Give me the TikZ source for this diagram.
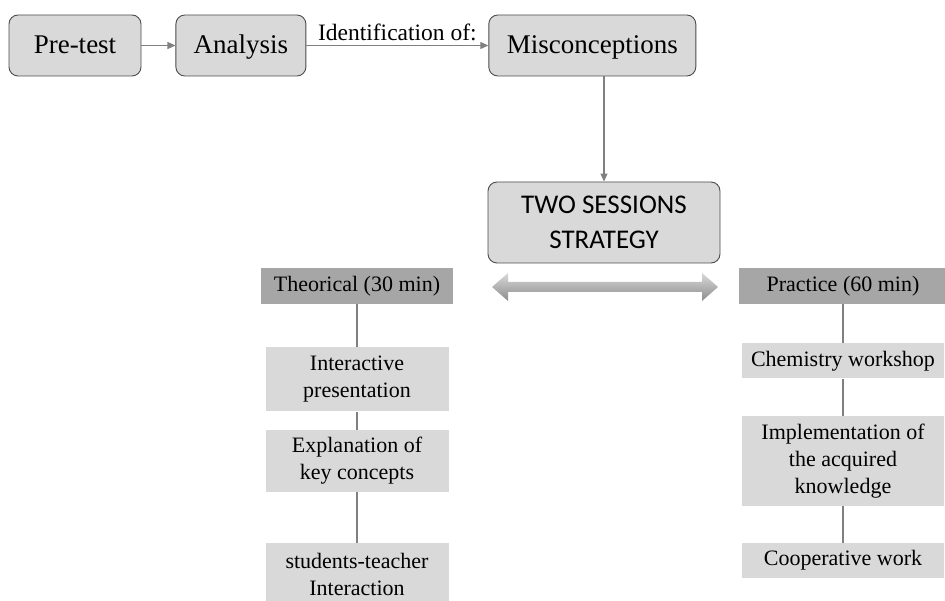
\documentclass[tikz,border=0pt]{standalone}
\usepackage{fontspec}
\setmainfont{Liberation Serif}
\newfontfamily\carlito{Carlito}
\usetikzlibrary{arrows.meta,positioning}
\tikzset{
  stage/.style={rectangle, rounded corners=9pt, draw=black!70, line width=0.9pt,
    fill=black!15, align=center, minimum height=61pt, inner sep=4pt,
    font=\fontsize{27}{32}\selectfont},
  oneline/.style={text height=19pt, text depth=2pt},
  session/.style={rectangle, fill=black!35, minimum height=36pt, inner sep=2pt,
    text height=16pt, text depth=5pt, font=\fontsize{22}{27}\selectfont},
  task/.style={rectangle, fill=black!15, align=center, inner sep=3pt,
    font=\fontsize{22}{27}\selectfont},
  flow/.style={-{Triangle[length=8pt,width=7pt]}, draw=black!50, line width=1.1pt},
  link/.style={draw=black!50, line width=2.2pt},
}
\begin{document}
\begin{tikzpicture}[x=1pt,y=-1pt]
    \useasboundingbox (0,0) rectangle (945,601);
    % top row
    \node[stage, oneline, minimum width=132pt] (pretest) at (75,45.5) {Pre-test};
    \node[stage, oneline, minimum width=130pt, right=34pt of pretest] (analysis) {Analysis};
    \node[stage, oneline, minimum width=207pt, right=182pt of analysis] (misc) {Misconceptions};
    \node[stage, minimum width=232pt, minimum height=81pt,
      font=\carlito\fontsize{27}{35}\selectfont] (strategy) at (604,222.5) {TWO SESSIONS\\STRATEGY};
    \draw[flow] (pretest) -- (analysis);
    \draw[flow] (analysis) -- node[above=1pt, font=\fontsize{23.5}{27}\selectfont] {Identification of:} (misc);
    \draw[flow] (strategy.north |- misc.south) -- (strategy.north);
    % theory session
    \node[session, minimum width=192pt] (theory) at (357,286) {Theorical (30 min)};
    \node[task, minimum width=183pt, minimum height=64pt, below=43pt of theory] (present) {Interactive\\presentation};
    \node[task, minimum width=183pt, minimum height=62pt, below=18pt of present] (concepts) {Explanation of\\key concepts};
    \node[task, minimum width=183pt, minimum height=62pt, below=51pt of concepts] (interact) {students-teacher\\Interaction};
    \draw[link] (theory) -- (present);
    \draw[link] (present) -- (concepts);
    \draw[link] (concepts) -- (interact);
    % practice session
    \node[session, minimum width=208pt] (practice) at (843,286) {Practice (60 min)};
    \node[task, minimum width=202pt, minimum height=35pt, below=39pt of practice] (workshop) {Chemistry workshop};
    \node[task, minimum width=202pt, minimum height=90pt, below=37pt of workshop] (apply) {Implementation of\\the acquired\\knowledge};
    \node[task, minimum width=202pt, minimum height=35pt, below=37pt of apply] (coop) {Cooperative work};
    \draw[link] (practice) -- (workshop);
    \draw[link] (workshop) -- (apply);
    \draw[link] (apply) -- (coop);
    % two-way arrow
    \shade[top color=black!15, bottom color=black!45]
      (492,287) -- (508,273) -- (508,282) -- (702,282) -- (702,273) -- (718,287)
      -- (702,301) -- (702,292) -- (508,292) -- (508,301) -- cycle;
  \end{tikzpicture}
\end{document}
